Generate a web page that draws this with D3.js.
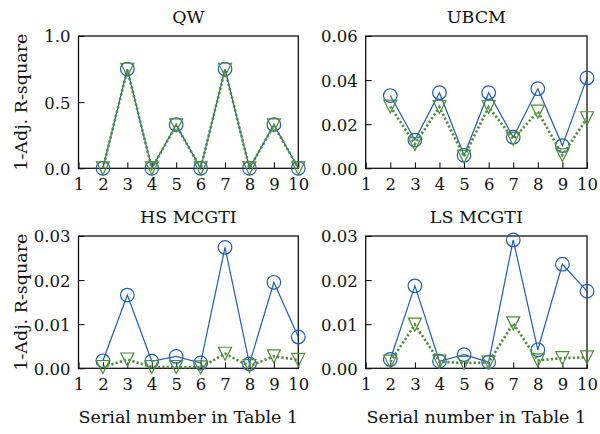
<!DOCTYPE html>
<html><head><meta charset="utf-8">
<script src="https://cdn.jsdelivr.net/npm/d3@7"></script>
<style>body{margin:0;background:#fff}svg{display:block}</style>
</head><body><svg id="c" width="600" height="434"></svg>
<script>
const serial = [2,3,4,5,6,7,8,9,10];
const xTicks = [1,2,3,4,5,6,7,8,9,10];
const titles = ["QW","UBCM","HS MCGTI","LS MCGTI"];
const yTicksQW = [0,0.5,1.0];
const yTicksUBCM = [0,0.02,0.04,0.06];
const yTicksHS = [0,0.01,0.02,0.03];
const yTicksLS = [0,0.01,0.02,0.03];
const blueQW = [0.0,0.75,0.0,0.33,0.0,0.75,0.0,0.33,0.0];
const greenQW = [0.0,0.745,0.0,0.325,0.0,0.745,0.0,0.325,0.0];
const blueUBCM = [0.033,0.0128,0.0343,0.0059,0.0343,0.0141,0.0361,0.0103,0.041];
const greenUBCM = [0.028,0.011,0.0278,0.0053,0.0278,0.0133,0.0257,0.006,0.0227];
const blueHS = [0.0017,0.0166,0.0016,0.0027,0.0012,0.0274,0.001,0.0195,0.0071];
const greenHS = [0.0003,0.002,0.0003,0.0003,0.0002,0.0033,0.0005,0.0027,0.0019];
const blueLS = [0.002,0.0187,0.0016,0.0031,0.0014,0.0291,0.0042,0.0236,0.0175];
const greenLS = [0.0015,0.0099,0.0015,0.0012,0.0013,0.0102,0.0018,0.0023,0.0025];

const panels = [
  {title:titles[0], blue:blueQW, green:greenQW, ticks:yTicksQW, fmt:".1f", max:1.0, box:[78.5,298.3,36,168.3], ylab:true, xlab:false},
  {title:titles[1], blue:blueUBCM, green:greenUBCM, ticks:yTicksUBCM, fmt:".2f", max:0.06, box:[365.7,587,36,168.3], ylab:false, xlab:false},
  {title:titles[2], blue:blueHS, green:greenHS, ticks:yTicksHS, fmt:".2f", max:0.03, box:[78.5,298.3,236,368.3], ylab:true, xlab:true},
  {title:titles[3], blue:blueLS, green:greenLS, ticks:yTicksLS, fmt:".2f", max:0.03, box:[365.7,587,236,368.3], ylab:false, xlab:true}
];
const BLUE="#1f5cb8", GREEN="#4d8c38";
const FONT="DejaVu Serif";
const svg = d3.select("#c");

panels.forEach(p=>{
  const [x0,x1,y0,y1] = p.box;
  const x = d3.scaleLinear().domain([1,10]).range([x0,x1]);
  const y = d3.scaleLinear().domain([0,p.max]).range([y1,y0]);
  const g = svg.append("g");
  const xa = g.append("g").attr("transform",`translate(0,${y1})`)
    .call(d3.axisBottom(x).tickValues(xTicks).tickFormat(d3.format("d")).tickSizeInner(-6).tickSizeOuter(0).tickPadding(10));
  const ya = g.append("g").attr("transform",`translate(${x0},0)`)
    .call(d3.axisLeft(y).tickValues(p.ticks).tickFormat(d3.format(p.fmt)).tickSizeInner(-6).tickSizeOuter(0).tickPadding(8));
  [xa,ya].forEach(a=>{
    a.select(".domain").remove();
    a.selectAll("line").attr("stroke","#000").attr("stroke-width",1);
    a.selectAll("text").attr("font-family",FONT).attr("font-size",16.5).attr("fill","#111");
  });
  xa.selectAll("text").attr("dy","0.71em");
  ya.selectAll("text").attr("dy","0.36em");
  g.append("rect").attr("x",x0).attr("y",y0).attr("width",x1-x0).attr("height",y1-y0)
    .attr("fill","none").attr("stroke","#111").attr("stroke-width",1.3);
  g.append("text").attr("x",(x0+x1)/2).attr("y",y0-13).attr("text-anchor","middle")
    .attr("font-family",FONT).attr("font-size",17.5).attr("fill","#111").text(p.title);
  if(p.ylab){
    g.append("text").attr("transform",`translate(${x0-52},${(y0+y1)/2}) rotate(-90)`)
      .attr("text-anchor","middle").attr("font-family",FONT).attr("font-size",17.5).attr("fill","#111")
      .text("1-Adj. R-square");
  }
  if(p.xlab){
    g.append("text").attr("x",(x0+x1)/2).attr("y",y1+55).attr("text-anchor","middle")
      .attr("font-family",FONT).attr("font-size",17.5).attr("fill","#111").text("Serial number in Table 1");
  }
  const bd = serial.map((s,i)=>({s,v:p.blue[i]}));
  const gd = serial.map((s,i)=>({s,v:p.green[i]}));
  const line = d3.line().x(d=>x(d.s)).y(d=>y(d.v));
  g.append("path").datum(bd).attr("d",line).attr("fill","none").attr("stroke",BLUE).attr("stroke-width",1.2);
  g.selectAll(".c").data(bd).enter().append("circle").attr("cx",d=>x(d.s)).attr("cy",d=>y(d.v)).attr("r",6.8)
    .attr("fill","none").attr("stroke",BLUE).attr("stroke-width",1.2);
  g.append("path").datum(gd).attr("d",line).attr("fill","none").attr("stroke",GREEN).attr("stroke-width",2.6).attr("stroke-dasharray","2.2,2.2");
  const h=6.5;
  g.selectAll(".t").data(gd).enter().append("path")
    .attr("d",d=>{const cx=x(d.s), cy=y(d.v); return `M${cx},${cy+h}L${cx-h},${cy-h}L${cx+h},${cy-h}Z`;})
    .attr("fill","none").attr("stroke",GREEN).attr("stroke-width",1.2);
});
</script></body></html>
